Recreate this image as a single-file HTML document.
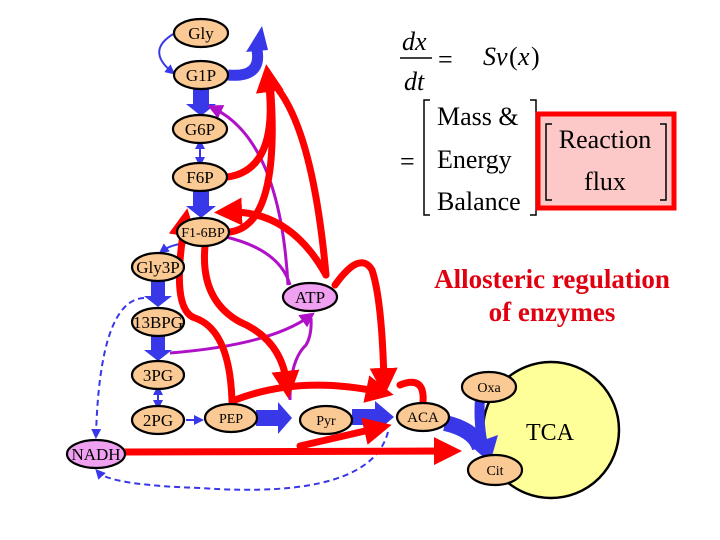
<!DOCTYPE html>
<html><head><meta charset="utf-8"><style>
html,body{margin:0;padding:0;background:#fff}
svg{display:block}
text{font-family:"Liberation Serif",serif}
</style></head><body>
<svg width="720" height="540" viewBox="0 0 720 540" xmlns="http://www.w3.org/2000/svg">
<defs>
<marker id="rA" markerWidth="4" markerHeight="4" refX="2" refY="2" orient="auto" markerUnits="strokeWidth"><path d="M0,0 L4,2 L0,4 z" fill="#f00"/></marker>
<marker id="pA" markerWidth="5" markerHeight="5" refX="3" refY="2.5" orient="auto" markerUnits="strokeWidth"><path d="M0,0 L5,2.5 L0,5 z" fill="#b010c8"/></marker>
<marker id="bA" markerWidth="5" markerHeight="5" refX="3" refY="2.5" orient="auto" markerUnits="strokeWidth"><path d="M0,0 L5,2.5 L0,5 z" fill="#3838e8"/></marker>
<marker id="bS" markerWidth="5" markerHeight="5" refX="2" refY="2.5" orient="auto-start-reverse" markerUnits="strokeWidth"><path d="M0,0 L5,2.5 L0,5 z" fill="#3838e8"/></marker>
</defs>

<circle cx="551" cy="430" r="68" fill="#ffff99" stroke="#000" stroke-width="2.5"/>
<text x="550" y="440" font-size="24" text-anchor="middle">TCA</text>

<g fill="#3838e8">
<polygon points="193,89 209,89 209,104 216,104 201,116 186,104 193,104"/>
<polygon points="193,191 209,191 209,206 216,206 201,218 186,206 193,206"/>
<polygon points="151,281 165,281 165,296 172,296 158,307 144,296 151,296"/>
<polygon points="151,336 165,336 165,350 172,350 158,361 144,350 151,350"/>
<polygon points="256,410 278,410 278,402 292,418 278,434 278,426 256,426"/>
<polygon points="352,409 375,409 375,401 394,417 375,433 375,425 352,425"/>
</g>
<path d="M228,75 Q262,78 257,50" stroke="#3838e8" stroke-width="11" fill="none"/>
<polygon points="246,52 262,26 268,50" fill="#3838e8"/>
<path d="M445,423 Q475,430 480,448" stroke="#3838e8" stroke-width="16" fill="none"/>
<path d="M480,398 Q478,425 484,450" stroke="#3838e8" stroke-width="10" fill="none"/>
<polygon points="470,445 498,435 490,463" fill="#3838e8"/>

<g stroke="#3838e8" stroke-width="2" fill="none">
<path d="M175,33 Q145,50 172,72" marker-end="url(#bA)"/>
<path d="M200,145 L200,161" marker-end="url(#bS)" marker-start="url(#bS)"/>
<path d="M158,391 L158,404" marker-end="url(#bS)" marker-start="url(#bS)"/>
<path d="M186,420 L200,420" marker-end="url(#bA)"/>
<path d="M186,243 Q170,245 162,251" marker-end="url(#bA)"/>
<path d="M144,298 Q100,300 96,435" stroke-dasharray="6,4" marker-end="url(#bA)"/>
<path d="M388,432 Q370,500 200,488 Q110,485 98,472" stroke-dasharray="6,4" marker-end="url(#bA)"/>
</g>

<g stroke="#b010c8" stroke-width="3" fill="none">
<path d="M288,285 Q280,140 213,108" marker-end="url(#pA)"/>
<path d="M226,237 Q280,250 290,285"/>
<path d="M170,353 Q270,345 310,316" marker-end="url(#pA)"/>
<path d="M290,400 Q290,360 306,345 Q312,335 311,318"/>
</g>

<g stroke="#f00" stroke-width="7" fill="none" stroke-linecap="round">
<path d="M227,177 Q280,170 268,78" marker-end="url(#rA)"/>
<path d="M230,232 Q282,225 270,80"/>
<path d="M326,275 Q312,120 270,80"/>
<path d="M326,275 Q290,210 228,212" marker-end="url(#rA)"/>
<path d="M232,402 Q230,330 195,318 Q170,310 185,222" marker-end="url(#rA)"/>
<path d="M205,246 Q200,300 240,322 Q282,340 287,385" marker-end="url(#rA)"/>
<path d="M235,400 Q300,375 380,392" marker-end="url(#rA)"/>
<path d="M335,285 Q360,250 372,270 Q382,300 384,382" marker-end="url(#rA)"/>
<path d="M423,402 Q425,375 400,385" />
<path d="M124,452 L448,451" marker-end="url(#rA)"/>
<path d="M300,446 L378,428" marker-end="url(#rA)"/>
</g>

<g stroke="#000" stroke-width="2.2">
<ellipse cx="201" cy="33" rx="27" ry="14" fill="#fbc994"/>
<ellipse cx="201" cy="75" rx="27" ry="14" fill="#fbc994"/>
<ellipse cx="200" cy="129" rx="27" ry="14" fill="#fbc994"/>
<ellipse cx="200" cy="177" rx="27" ry="14" fill="#fbc994"/>
<ellipse cx="203" cy="232" rx="26" ry="14" fill="#fbc994"/>
<ellipse cx="158" cy="267" rx="26" ry="14" fill="#fbc994"/>
<ellipse cx="158" cy="322" rx="26" ry="14" fill="#fbc994"/>
<ellipse cx="158" cy="375" rx="26" ry="14" fill="#fbc994"/>
<ellipse cx="158" cy="420" rx="26" ry="14" fill="#fbc994"/>
<ellipse cx="231" cy="418" rx="26" ry="14" fill="#fbc994"/>
<ellipse cx="326" cy="420" rx="26" ry="14" fill="#fbc994"/>
<ellipse cx="423" cy="417" rx="26" ry="14" fill="#fbc994"/>
<ellipse cx="489" cy="387" rx="27" ry="15" fill="#fbc994"/>
<ellipse cx="495" cy="470" rx="27" ry="15" fill="#fbc994"/>
<ellipse cx="96" cy="454" rx="29" ry="14" fill="#f0a0f0"/>
<ellipse cx="310" cy="297" rx="27" ry="14" fill="#f0a0f0"/>
</g>
<g font-size="17" text-anchor="middle">
<text x="201" y="39">Gly</text>
<text x="201" y="81">G1P</text>
<text x="200" y="135">G6P</text>
<text x="200" y="183">F6P</text>
<text x="203" y="237" font-size="14">F1-6BP</text>
<text x="158" y="273">Gly3P</text>
<text x="158" y="328">13BPG</text>
<text x="158" y="381">3PG</text>
<text x="158" y="426">2PG</text>
<text x="231" y="423" font-size="14">PEP</text>
<text x="326" y="425" font-size="14">Pyr</text>
<text x="423" y="422" font-size="15">ACA</text>
<text x="489" y="392" font-size="14">Oxa</text>
<text x="495" y="475" font-size="14">Cit</text>
<text x="96" y="460">NADH</text>
<text x="310" y="303">ATP</text>
</g>

<g font-style="italic" font-size="26">
<text x="402" y="50">dx</text>
<text x="404" y="90">dt</text>
<text x="483" y="65">Sv</text>
<text x="509" y="65" font-style="normal">(</text>
<text x="518" y="65">x</text>
<text x="531" y="65" font-style="normal">)</text>
</g>
<line x1="400" y1="58" x2="432" y2="58" stroke="#000" stroke-width="1.5"/>
<text x="438" y="68" font-size="26">=</text>
<text x="400" y="170" font-size="26">=</text>
<path d="M430,100 L424,100 L424,215 L430,215 M530,100 L536,100 L536,215 L530,215" stroke="#000" stroke-width="1.5" fill="none"/>
<g font-size="26">
<text x="437" y="125">Mass &amp;</text>
<text x="437" y="168">Energy</text>
<text x="437" y="210">Balance</text>
</g>
<rect x="538" y="114" width="136" height="94" fill="#fcc8c8" stroke="#f00" stroke-width="5"/>
<path d="M552,124 L546,124 L546,200 L552,200 M660,124 L666,124 L666,200 L660,200" stroke="#000" stroke-width="1.5" fill="none"/>
<g font-size="26" text-anchor="middle">
<text x="605" y="148">Reaction</text>
<text x="605" y="190">flux</text>
</g>
<g font-size="27" font-weight="bold" fill="#e00010" text-anchor="middle">
<text x="552" y="288">Allosteric regulation</text>
<text x="552" y="321">of enzymes</text>
</g>
</svg>
</body></html>
